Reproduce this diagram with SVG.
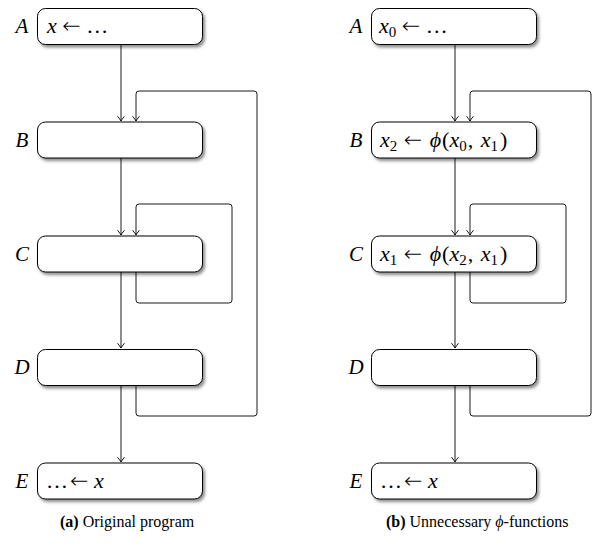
<svg xmlns="http://www.w3.org/2000/svg" width="606" height="554" viewBox="0 0 606 554">
<defs>
  <filter id="sh" x="-10%" y="-20%" width="130%" height="160%">
    <feDropShadow dx="2" dy="2.5" stdDeviation="1.6" flood-color="#000" flood-opacity="0.45"/>
  </filter>
  <marker id="ah" viewBox="-6 -4 7 8" refX="0" refY="0" markerWidth="7" markerHeight="8" markerUnits="userSpaceOnUse" orient="auto">
    <path d="M -4.5,-3.2 Q -1.2,-0.6 0,0 Q -1.2,0.6 -4.5,3.2" fill="none" stroke="#000" stroke-width="0.9" stroke-linecap="round"/>
  </marker>
</defs>
<style>
  .box { fill: #fff; stroke: #000; stroke-width: 1; filter: url(#sh); }
  .edge { fill: none; stroke: #000; stroke-width: 0.9; }
  .arr { marker-end: url(#ah); }
  text { font-family: "Liberation Serif", "DejaVu Serif", serif; font-size: 22px; fill: #000; }
  .lbl { font-style: italic; text-anchor: middle; font-size: 21px; }
  .i { font-style: italic; }
  .sub { font-size: 15px; }
  .la { font-family: "DejaVu Sans", sans-serif; font-weight: 200; }
  .cap { font-size: 16px; }
</style>
<rect width="606" height="554" fill="#fff"/>

<g id="edges">
  <!-- left panel -->
  <path class="edge arr" d="M121,44 V121"/>
  <path class="edge arr" d="M121,158 V235"/>
  <path class="edge arr" d="M121,272 V348"/>
  <path class="edge arr" d="M121,386 V462"/>
  <path class="edge arr" d="M136,386 V413 Q136,416 139,416 H254 Q257,416 257,413 V94 Q257,91 254,91 H139 Q136,91 136,94 V121"/>
  <path class="edge arr" d="M136,272 V300 Q136,303 139,303 H229 Q232,303 232,300 V207 Q232,204 229,204 H139 Q136,204 136,207 V235"/>
  <!-- right panel -->
  <path class="edge arr" d="M455,44 V121"/>
  <path class="edge arr" d="M455,158 V235"/>
  <path class="edge arr" d="M455,272 V348"/>
  <path class="edge arr" d="M455,386 V462"/>
  <path class="edge arr" d="M470,386 V413 Q470,416 473,416 H588 Q591,416 591,413 V94 Q591,91 588,91 H473 Q470,91 470,94 V121"/>
  <path class="edge arr" d="M470,272 V300 Q470,303 473,303 H563 Q566,303 566,300 V207 Q566,204 563,204 H473 Q470,204 470,207 V235"/>
</g>

<!-- left panel nodes -->
<g id="a-A">
  <rect class="box" x="37.5" y="8.5" width="165" height="36" rx="8"/>
  <text class="lbl" x="22" y="33">A</text>
  <text x="47" y="33"><tspan class="i">x</tspan> <tspan class="la">←</tspan> …</text>
</g>
<g id="a-B">
  <rect class="box" x="37.5" y="122" width="165" height="36" rx="8"/>
  <text class="lbl" x="22" y="147">B</text>
</g>
<g id="a-C">
  <rect class="box" x="37.5" y="236" width="165" height="36" rx="8"/>
  <text class="lbl" x="22" y="261">C</text>
</g>
<g id="a-D">
  <rect class="box" x="37.5" y="349.5" width="165" height="36" rx="8"/>
  <text class="lbl" x="22" y="374">D</text>
</g>
<g id="a-E">
  <rect class="box" x="37.5" y="463" width="165" height="36" rx="8"/>
  <text class="lbl" x="22" y="488">E</text>
  <text x="46" y="488">…<tspan class="la" dx="2">←</tspan> <tspan class="i">x</tspan></text>
</g>

<!-- right panel nodes -->
<g id="b-A">
  <rect class="box" x="371.5" y="8.5" width="165" height="36" rx="8"/>
  <text class="lbl" x="356" y="33">A</text>
  <text x="379" y="33"><tspan class="i">x</tspan><tspan class="sub" dy="4">0</tspan><tspan dy="-4"> </tspan><tspan class="la">←</tspan> …</text>
</g>
<g id="b-B">
  <rect class="box" x="371.5" y="122" width="165" height="36" rx="8"/>
  <text class="lbl" x="356" y="147">B</text>
  <text x="380" y="147"><tspan class="i">x</tspan><tspan class="sub" dy="4">2</tspan><tspan dy="-4"> </tspan><tspan class="la" dx="1">←</tspan> <tspan class="i" dx="2">ϕ</tspan><tspan dx="1">(</tspan><tspan class="i">x</tspan><tspan class="sub" dy="4">0</tspan><tspan dy="-4" dx="1">, </tspan><tspan class="i" dx="2">x</tspan><tspan class="sub" dy="4">1</tspan><tspan dy="-4" dx="2">)</tspan></text>
</g>
<g id="b-C">
  <rect class="box" x="371.5" y="236" width="165" height="36" rx="8"/>
  <text class="lbl" x="356" y="261">C</text>
  <text x="380" y="261"><tspan class="i">x</tspan><tspan class="sub" dy="4">1</tspan><tspan dy="-4"> </tspan><tspan class="la" dx="1">←</tspan> <tspan class="i" dx="2">ϕ</tspan><tspan dx="1">(</tspan><tspan class="i">x</tspan><tspan class="sub" dy="4">2</tspan><tspan dy="-4" dx="1">, </tspan><tspan class="i" dx="2">x</tspan><tspan class="sub" dy="4">1</tspan><tspan dy="-4" dx="2">)</tspan></text>
</g>
<g id="b-D">
  <rect class="box" x="371.5" y="349.5" width="165" height="36" rx="8"/>
  <text class="lbl" x="356" y="374">D</text>
</g>
<g id="b-E">
  <rect class="box" x="371.5" y="463" width="165" height="36" rx="8"/>
  <text class="lbl" x="356" y="488">E</text>
  <text x="380" y="488">…<tspan class="la" dx="2">←</tspan> <tspan class="i">x</tspan></text>
</g>

<g id="captions">
  <text class="cap" x="60" y="527"><tspan font-weight="bold">(a)</tspan> Original program</text>
  <text class="cap" x="386" y="527"><tspan font-weight="bold">(b)</tspan> Unnecessary <tspan class="i">ϕ</tspan>-functions</text>
</g>
</svg>
